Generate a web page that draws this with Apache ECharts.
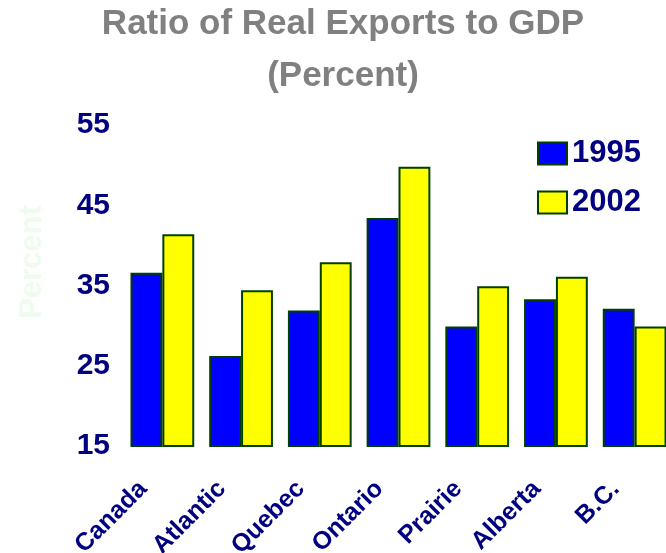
<!DOCTYPE html>
<html>
<head>
<meta charset="utf-8">
<script src="https://cdn.jsdelivr.net/npm/echarts@6/dist/echarts.min.js"></script>
<style>
  html, body { margin: 0; padding: 0; background: #fff; }
</style>
</head>
<body>
<div id="chart_exports" style="width: 666px; height: 553px;"></div>
<script>
  // values
  const regions = ['Canada', 'Atlantic', 'Quebec', 'Ontario', 'Prairie', 'Alberta', 'B.C.'];
  const ratio1995 = [36.6, 26.2, 31.9, 43.4, 29.9, 33.3, 32.1];
  const ratio2002 = [41.4, 34.4, 37.9, 49.8, 34.9, 36.1, 29.9];
  const yTicks = { min: 15, max: 55, interval: 10 };

  const font = "'Liberation Sans', Arial, sans-serif";
  const navy = '#000080';
  const edge = '#003f00';

  let chart_exports = echarts.init(document.getElementById('chart_exports'));

  let option_exports = {
    animation: false,
    title: {
      text: 'Ratio of Real Exports to GDP\n(Percent)',
      left: 343,
      top: -2,
      padding: 0,
      textAlign: 'center',
      textStyle: {
        fontFamily: font,
        fontSize: 35,
        fontWeight: 'bold',
        color: '#808080',
        lineHeight: 52
      }
    },
    legend: {
      orient: 'vertical',
      left: 537,
      top: 138,
      padding: 0,
      itemWidth: 29,
      itemHeight: 22,
      itemGap: 18,
      icon: 'rect',
      textStyle: {
        fontFamily: font,
        fontSize: 31,
        fontWeight: 'bold',
        color: navy,
        lineHeight: 30
      },
      data: ['1995', '2002']
    },
    graphic: [{
      type: 'text',
      x: 32,
      y: 262,
      rotation: Math.PI / 2,
      style: {
        text: 'Percent',
        fontFamily: font,
        fontSize: 31,
        fontWeight: 'bold',
        fill: '#eefcee',
        align: 'center',
        verticalAlign: 'middle'
      }
    }],
    grid: {
      left: 123,
      top: 125,
      width: 551,
      bottom: 107,
      outerBoundsMode: 'none',
      containLabel: false
    },
    xAxis: {
      type: 'category',
      data: regions,
      axisLine: { show: false },
      axisTick: { show: false },
      axisLabel: {
        interval: 0,
        rotate: 45,
        margin: 20,
        padding: [0, 27, 0, 0],
        fontFamily: font,
        fontSize: 25,
        fontWeight: 'bold',
        color: navy
      }
    },
    yAxis: {
      type: 'value',
      min: yTicks.min,
      max: yTicks.max,
      interval: yTicks.interval,
      axisLine: { show: false },
      axisTick: { show: false },
      splitLine: { show: false },
      axisLabel: {
        margin: 13,
        fontFamily: font,
        fontSize: 30,
        fontWeight: 'bold',
        color: navy
      }
    },
    series: [
      {
        name: '1995',
        type: 'bar',
        data: ratio1995,
        barGap: 0,
        barCategoryGap: '19%',
        itemStyle: { color: '#0000ff', borderColor: edge, borderWidth: 2 }
      },
      {
        name: '2002',
        type: 'bar',
        data: ratio2002,
        itemStyle: { color: '#ffff00', borderColor: edge, borderWidth: 2 }
      }
    ]
  };

  chart_exports.setOption(option_exports);
</script>
</body>
</html>
